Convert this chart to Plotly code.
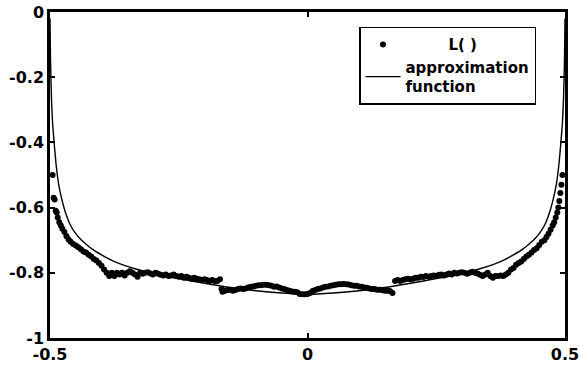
import plotly.graph_objects as go

# Measured L( ) data points
x_pts = [-0.495, -0.493, -0.491, -0.489, -0.487, -0.485, -0.482, -0.479, -0.476, -0.472,
         -0.468, -0.464, -0.460, -0.455, -0.450, -0.445, -0.440, -0.435, -0.430, -0.425,
         -0.420, -0.415, -0.410, -0.405, -0.400, -0.395, -0.390, -0.385, -0.380, -0.375,
         -0.370, -0.365, -0.360, -0.355, -0.350, -0.345, -0.340, -0.335, -0.330, -0.325,
         -0.320, -0.315, -0.310, -0.305, -0.300, -0.295, -0.290, -0.285, -0.280, -0.275,
         -0.270, -0.265, -0.260, -0.255, -0.250, -0.245, -0.240, -0.235, -0.230, -0.225,
         -0.220, -0.215, -0.210, -0.205, -0.200, -0.195, -0.190, -0.185, -0.180, -0.175,
         -0.170, -0.167, -0.165, -0.160, -0.155, -0.150, -0.145, -0.140, -0.135, -0.130,
         -0.125, -0.120, -0.115, -0.110, -0.105, -0.100, -0.095, -0.090, -0.085, -0.080,
         -0.075, -0.070, -0.065, -0.060, -0.055, -0.050, -0.045, -0.040, -0.035, -0.030,
         -0.025, -0.020, -0.015, -0.010, -0.005, 0.000, 0.005, 0.010, 0.015, 0.020,
         0.025, 0.030, 0.035, 0.040, 0.045, 0.050, 0.055, 0.060, 0.065, 0.070,
         0.075, 0.080, 0.085, 0.090, 0.095, 0.100, 0.105, 0.110, 0.115, 0.120,
         0.125, 0.130, 0.135, 0.140, 0.145, 0.150, 0.155, 0.160, 0.165, 0.170,
         0.175, 0.180, 0.185, 0.190, 0.195, 0.200, 0.205, 0.210, 0.215, 0.220,
         0.225, 0.230, 0.235, 0.240, 0.245, 0.250, 0.255, 0.260, 0.265, 0.270,
         0.275, 0.280, 0.285, 0.290, 0.295, 0.300, 0.305, 0.310, 0.315, 0.320,
         0.325, 0.330, 0.335, 0.340, 0.345, 0.350, 0.355, 0.360, 0.365, 0.370,
         0.375, 0.380, 0.385, 0.390, 0.395, 0.400, 0.405, 0.410, 0.415, 0.420,
         0.425, 0.430, 0.435, 0.440, 0.445, 0.450, 0.455, 0.460, 0.464, 0.468,
         0.472, 0.476, 0.479, 0.482, 0.485, 0.487, 0.489, 0.491, 0.493, 0.495]
y_pts = [-0.50, -0.57, -0.575, -0.61, -0.615, -0.63, -0.645, -0.655, -0.665, -0.675,
         -0.688, -0.698, -0.705, -0.712, -0.716, -0.722, -0.728, -0.735, -0.738, -0.745,
         -0.75, -0.758, -0.762, -0.77, -0.778, -0.79, -0.80, -0.81, -0.80, -0.81,
         -0.80, -0.805, -0.80, -0.808, -0.80, -0.795, -0.80, -0.805, -0.812, -0.80,
         -0.803, -0.80, -0.798, -0.802, -0.805, -0.80, -0.803, -0.806, -0.808, -0.805,
         -0.81, -0.808, -0.805, -0.81, -0.812, -0.81, -0.815, -0.812, -0.815, -0.818,
         -0.815, -0.818, -0.82, -0.822, -0.82, -0.822, -0.825, -0.822, -0.825, -0.825,
         -0.82, -0.85, -0.858, -0.855, -0.853, -0.852, -0.855, -0.853, -0.85, -0.848,
         -0.85, -0.848, -0.845, -0.843, -0.842, -0.84, -0.838, -0.838, -0.837, -0.837,
         -0.838, -0.84, -0.843, -0.842, -0.845, -0.848, -0.85, -0.853, -0.855, -0.857,
         -0.858, -0.86, -0.865, -0.866, -0.866, -0.865, -0.862, -0.856, -0.853, -0.85,
         -0.848, -0.845, -0.843, -0.842, -0.84, -0.838, -0.837, -0.835, -0.835, -0.834,
         -0.835, -0.836, -0.838, -0.84, -0.84, -0.842, -0.843, -0.845, -0.846, -0.848,
         -0.85, -0.85, -0.852, -0.852, -0.853, -0.855, -0.855, -0.856, -0.862, -0.825,
         -0.822, -0.825, -0.822, -0.82, -0.818, -0.82, -0.818, -0.815, -0.815, -0.812,
         -0.813, -0.81, -0.812, -0.81, -0.808, -0.81, -0.806, -0.805, -0.808, -0.805,
         -0.802, -0.805, -0.80, -0.802, -0.80, -0.798, -0.80, -0.803, -0.80, -0.797,
         -0.80, -0.802, -0.806, -0.81, -0.805, -0.80, -0.81, -0.815, -0.81, -0.81,
         -0.808, -0.81, -0.805, -0.80, -0.79, -0.785, -0.775, -0.77, -0.765, -0.758,
         -0.75, -0.745, -0.738, -0.73, -0.725, -0.715, -0.705, -0.70, -0.69, -0.68,
         -0.668, -0.655, -0.645, -0.63, -0.615, -0.60, -0.58, -0.555, -0.53, -0.50]

# Approximation function
x_fit = [-0.5, -0.499, -0.497, -0.495, -0.492, -0.488, -0.483, -0.477, -0.47, -0.46,
         -0.45, -0.44, -0.43, -0.42, -0.40, -0.38, -0.36, -0.33, -0.30, -0.25,
         -0.20, -0.15, -0.10, -0.05, 0.0, 0.05, 0.10, 0.15, 0.20, 0.25,
         0.30, 0.33, 0.36, 0.38, 0.40, 0.42, 0.43, 0.44, 0.45, 0.46,
         0.47, 0.477, 0.483, 0.488, 0.492, 0.495, 0.497, 0.499, 0.5]
y_fit = [-0.02, -0.15, -0.27, -0.34, -0.40, -0.47, -0.53, -0.575, -0.615, -0.655,
         -0.68, -0.698, -0.712, -0.725, -0.745, -0.762, -0.775, -0.79, -0.802, -0.818,
         -0.832, -0.845, -0.855, -0.862, -0.866, -0.862, -0.855, -0.845, -0.832, -0.818,
         -0.802, -0.79, -0.775, -0.762, -0.745, -0.725, -0.712, -0.698, -0.68, -0.655,
         -0.615, -0.575, -0.53, -0.47, -0.40, -0.34, -0.27, -0.15, -0.02]

x_ticks = [-0.5, 0, 0.5]
x_ticklabels = ["-0.5", "0", "0.5"]
y_ticks = [0, -0.2, -0.4, -0.6, -0.8, -1]
y_ticklabels = ["0", "-0.2", "-0.4", "-0.6", "-0.8", "-1"]

FONT = "DejaVu Sans, sans-serif"
NB = "&nbsp;"

fig = go.Figure()
fig.add_trace(go.Scatter(
    x=x_pts, y=y_pts, mode="markers", name=NB * 9 + "<b>L( )</b>",
    marker=dict(color="black", size=6, symbol="circle"),
))
fig.add_trace(go.Scatter(
    x=x_fit, y=y_fit, mode="lines", name="<b>approximation<br>function</b>",
    line=dict(color="black", width=1.4, shape="spline", smoothing=0.6),
))

axis_common = dict(
    showgrid=False, zeroline=False, showline=True, linecolor="black",
    linewidth=2.5, mirror="ticks", ticks="inside", ticklen=5, tickwidth=1.5,
    tickcolor="black", automargin=False,
    tickfont=dict(family=FONT, size=16, color="black"),
)
fig.update_layout(
    width=580, height=369,
    margin=dict(l=50, r=15, t=12, b=31, autoexpand=False),
    paper_bgcolor="white", plot_bgcolor="white",
    font=dict(family=FONT, color="black"),
    xaxis=dict(range=[-0.5, 0.5], tickvals=x_ticks,
               ticktext=["<b>%s</b>" % t for t in x_ticklabels], **axis_common),
    yaxis=dict(range=[-1, 0], tickvals=y_ticks,
               ticktext=["<b>%s</b>" % t for t in y_ticklabels], **axis_common),
    legend=dict(
        x=0.60, y=0.955, xanchor="left", yanchor="top",
        bgcolor="white", bordercolor="black", borderwidth=1.5,
        font=dict(family=FONT, size=15, color="black"),
        itemwidth=35, tracegroupgap=0,
    ),
    showlegend=True,
)
fig.write_html(
    "out.html",
    config={"displayModeBar": False},
    post_script="document.body.style.margin='0';document.body.style.overflow='hidden';",
)
